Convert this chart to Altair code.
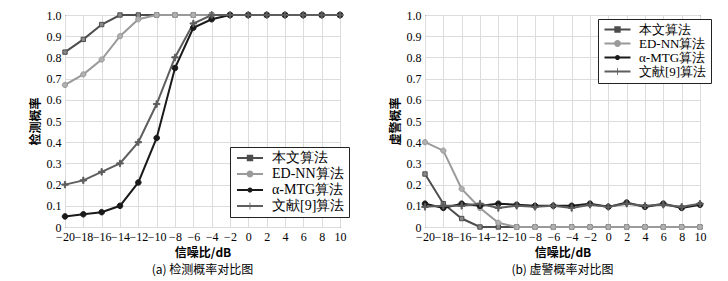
import altair as alt
import pandas as pd

snr = [-20, -18, -16, -14, -12, -10, -8, -6, -4, -2, 0, 2, 4, 6, 8, 10]
series = ["本文算法", "ED-NN算法", "α-MTG算法", "文献[9]算法"]

pd_ours = [0.825, 0.885, 0.955, 1.0, 1.0, 1.0, 1.0, 1.0, 1.0, 1.0, 1.0, 1.0, 1.0, 1.0, 1.0, 1.0]
pd_ednn = [0.67, 0.72, 0.79, 0.90, 0.98, 1.0, 1.0, 1.0, 1.0, 1.0, 1.0, 1.0, 1.0, 1.0, 1.0, 1.0]
pd_mtg = [0.05, 0.06, 0.07, 0.10, 0.21, 0.42, 0.75, 0.94, 0.98, 1.0, 1.0, 1.0, 1.0, 1.0, 1.0, 1.0]
pd_ref9 = [0.20, 0.22, 0.26, 0.30, 0.40, 0.58, 0.80, 0.96, 1.0, 1.0, 1.0, 1.0, 1.0, 1.0, 1.0, 1.0]

pf_ours = [0.25, 0.11, 0.04, 0.0, 0.0, 0.0, 0.0, 0.0, 0.0, 0.0, 0.0, 0.0, 0.0, 0.0, 0.0, 0.0]
pf_ednn = [0.40, 0.36, 0.18, 0.09, 0.02, 0.0, 0.0, 0.0, 0.0, 0.0, 0.0, 0.0, 0.0, 0.0, 0.0, 0.0]
pf_mtg = [0.11, 0.09, 0.11, 0.10, 0.11, 0.105, 0.10, 0.10, 0.10, 0.11, 0.095, 0.115, 0.095, 0.11, 0.09, 0.105]
pf_ref9 = [0.095, 0.10, 0.10, 0.11, 0.09, 0.10, 0.095, 0.10, 0.09, 0.105, 0.095, 0.11, 0.10, 0.105, 0.095, 0.11]

y_ticks = [0, 0.1, 0.2, 0.3, 0.4, 0.5, 0.6, 0.7, 0.8, 0.9, 1.0]

colors = ["#4d4d4d", "#9a9a9a", "#1a1a1a", "#5e5e5e"]
fills = ["#8a8a8a", "#b0b0b0", "#1a1a1a", "#5e5e5e"]

SQ = "M-0.8,-0.8H0.8V0.8H-0.8Z"
CI = "M0.9,0A0.9,0.9 0 1,1 -0.9,0A0.9,0.9 0 1,1 0.9,0Z"
PL = "M-1,-0.18H1V0.18H-1Z M-0.18,-1H0.18V1H-0.18Z"
point_shapes = [SQ, CI, CI, PL]
point_sizes = [30, 42, 26, 50]

# legend symbols: a short line with the marker in its middle (unit = 4 px)
BAR = "M-1,-0.25H5.5V0.25H-1Z "
LSQ = BAR + "M1.45,-0.8H3.05V0.8H1.45Z"
LCI = BAR + "M3.1,0A0.85,0.85 0 1,1 1.4,0A0.85,0.85 0 1,1 3.1,0Z"
LDOT = BAR + "M2.9,0A0.65,0.65 0 1,1 1.6,0A0.65,0.65 0 1,1 2.9,0Z"
LPL = BAR + "M2.15,-0.85H2.35V0.85H2.15Z"
legend_shapes = [LSQ, LCI, LDOT, LPL]

SERIF = "Liberation Serif"
CJK = "Noto Sans CJK SC"


def make_df(vals):
    rows = []
    for name, v in zip(series, vals):
        for x, y in zip(snr, v):
            rows.append({"snr": x, "p": y, "alg": name})
    return pd.DataFrame(rows)


def panel(df, ytitle, caption, lx, ly, rowpad, lfont):
    x = alt.X("snr:Q", scale=alt.Scale(domain=[-20, 10], nice=False),
              axis=alt.Axis(values=snr, title="信噪比/dB", format="d", labelOverlap=False))
    y = alt.Y("p:Q", scale=alt.Scale(domain=[0, 1], nice=False),
              axis=alt.Axis(values=y_ticks, title=ytitle,
                            labelExpr="datum.value == 0 ? '0' : format(datum.value, '.1f')"))
    col = alt.Color("alg:N", scale=alt.Scale(domain=series, range=colors), legend=None)
    base = alt.Chart(df)
    lines = base.mark_line(strokeWidth=2).encode(x=x, y=y, color=col)
    pts = base.mark_point(filled=True, opacity=1, strokeWidth=1).encode(
        x=x, y=y,
        stroke=alt.Stroke("alg:N", scale=alt.Scale(domain=series, range=colors), legend=None),
        fill=alt.Fill("alg:N", scale=alt.Scale(domain=series, range=fills), legend=None),
        shape=alt.Shape("alg:N", scale=alt.Scale(domain=series, range=point_shapes), legend=None),
        size=alt.Size("alg:N", scale=alt.Scale(domain=series, range=point_sizes), legend=None),
    )
    leg_df = pd.DataFrame({"leg": series})
    lg = alt.Legend(title=None, orient="none", legendX=lx, legendY=ly,
                    strokeColor="#222222", fillColor="white", padding=4,
                    labelFont=SERIF, labelFontSize=lfont, labelColor="black",
                    rowPadding=rowpad, symbolSize=64, symbolStrokeWidth=0,
                    labelOffset=24, labelLimit=200, offset=0)
    leg = alt.Chart(leg_df).mark_point(filled=True, clip=True, opacity=1).encode(
        x=alt.value(-500), y=alt.value(-500),
        color=alt.Color("leg:N", scale=alt.Scale(domain=series, range=colors), legend=lg),
        shape=alt.Shape("leg:N", scale=alt.Scale(domain=series, range=legend_shapes), legend=lg),
    )
    return alt.layer(lines, pts, leg).resolve_scale(
        color="independent", shape="independent"
    ).resolve_legend(color="independent", shape="independent").properties(
        width=275, height=212,
        title=alt.TitleParams(caption, orient="bottom", font=CJK, fontSize=12,
                              fontWeight="normal", offset=7, anchor="middle", color="black"))


left = panel(make_df([pd_ours, pd_ednn, pd_mtg, pd_ref9]), "检测概率", "(a) 检测概率对比图", 165, 132, 2, 14)
right = panel(make_df([pf_ours, pf_ednn, pf_mtg, pf_ref9]), "虚警概率", "(b) 虚警概率对比图", 173, 4, -2, 13)

chart = alt.hconcat(left, right, spacing=38).properties(
    padding={"left": 20, "top": 0, "right": 0, "bottom": 0}
).configure_view(stroke="black", strokeWidth=1).configure_axis(
    grid=True, gridColor="#dcdcdc", gridWidth=1, domain=False,
    ticks=False,
    labelFont=SERIF, labelFontSize=12, labelColor="black", labelPadding=4,
    titleFont=CJK, titleFontSize=12, titleFontWeight="bold", titleColor="black",
).configure_axisY(titlePadding=4).configure_axisX(titlePadding=5, labelFlush=False)

chart.save("out.html", embed_options={"renderer": "svg", "actions": False})
